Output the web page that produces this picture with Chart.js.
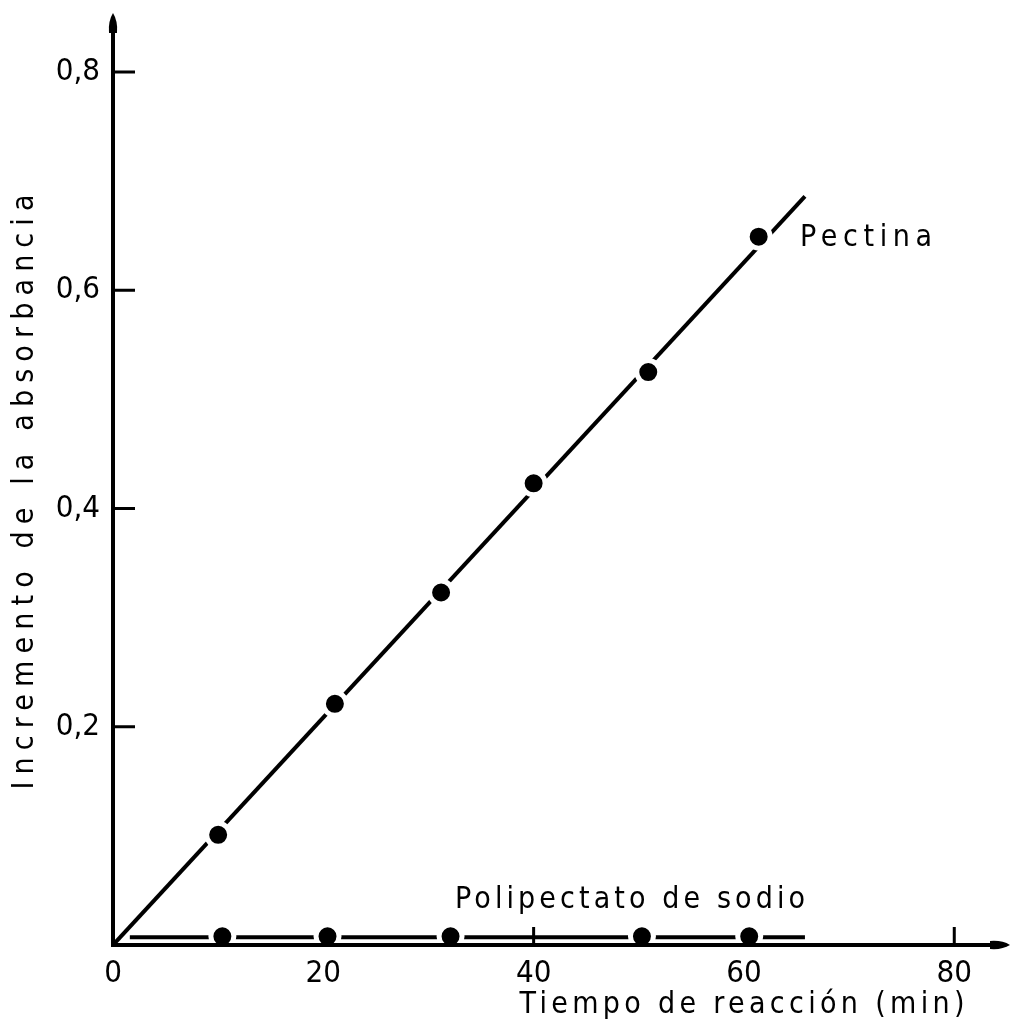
<!DOCTYPE html>
<html lang="es">
<head>
<meta charset="UTF-8">
<title>Incremento de la absorbancia</title>
<script src="https://cdn.jsdelivr.net/npm/chart.js"></script>
<style>
  body { margin: 0; background: #fff; }
  canvas { display: block; }
</style>
</head>
<body>
<canvas id="chart" width="1012" height="1032"></canvas>
<script>
// data
var xTicks = [0, 20, 40, 60, 80];
var yTicks = [0.2, 0.4, 0.6, 0.8];

var pectinaX = [10.0, 21.1, 31.2, 40.0, 50.9, 61.4];
var pectinaY = [0.101, 0.221, 0.323, 0.423, 0.525, 0.649];
var pectinaLineX = [0, 65.8];
var pectinaLineY = [0, 0.686];

var poliX = [10.4, 20.4, 32.1, 50.3, 60.5];
var poliY = [0.008, 0.008, 0.008, 0.008, 0.008];
var poliLineX = [1.6, 65.8];
var poliLineY = [0.007, 0.007];

var FONT = '"DejaVu Sans Condensed", "DejaVu Sans", sans-serif';

function pts(xs, ys) {
    return xs.map(function(x, i) { return { x: x, y: ys[i] }; });
}

// draw text spread to a given width
function spacedText(ctx, text, cx, cy, width, size, angle) {
    ctx.save();
    ctx.font = size + 'px ' + FONT;
    ctx.letterSpacing = '0px';
    var w = ctx.measureText(text).width;
    var sp = (width - w) / (text.length - 1);
    ctx.letterSpacing = sp + 'px';
    ctx.translate(cx, cy);
    if (angle) ctx.rotate(angle);
    ctx.textAlign = 'left';
    ctx.textBaseline = 'middle';
    ctx.fillStyle = '#000';
    ctx.fillText(text, -width / 2, 0);
    ctx.restore();
}

function noPad(scale) {
    scale.paddingTop = 0;
    scale.paddingBottom = 0;
    scale.paddingLeft = 0;
    scale.paddingRight = 0;
}

var axesPlugin = {
    id: 'axesPlugin',
    beforeDatasetsDraw: function(chart) {
        // ticks go under the markers
        var ctx = chart.ctx;
        var xs = chart.scales.x, ys = chart.scales.y;
        var x0 = xs.getPixelForValue(0), y0 = ys.getPixelForValue(0);
        ctx.save();
        ctx.strokeStyle = '#000';
        ctx.lineWidth = 3;
        ctx.beginPath();
        yTicks.forEach(function(v) {
            var p = ys.getPixelForValue(v);
            ctx.moveTo(x0, p);
            ctx.lineTo(x0 + 22, p);
        });
        xTicks.slice(1).forEach(function(v) {
            var p = xs.getPixelForValue(v);
            ctx.moveTo(p, y0);
            ctx.lineTo(p, y0 - 18);
        });
        ctx.stroke();
        ctx.restore();
    },
    afterDatasetsDraw: function(chart) {
        var ctx = chart.ctx;
        var xs = chart.scales.x, ys = chart.scales.y;
        var x0 = xs.getPixelForValue(0), y0 = ys.getPixelForValue(0);
        ctx.save();
        ctx.strokeStyle = '#000';
        ctx.fillStyle = '#000';
        ctx.lineWidth = 4;

        // axes
        ctx.beginPath();
        ctx.moveTo(x0, y0 + 2);
        ctx.lineTo(x0, chart.chartArea.top + 12);
        ctx.moveTo(x0 - 2, y0);
        ctx.lineTo(chart.chartArea.right - 12, y0);
        ctx.stroke();

        // arrow heads
        var top = chart.chartArea.top;
        ctx.beginPath();
        ctx.moveTo(x0, top);
        ctx.quadraticCurveTo(x0 + 5, top + 8, x0 + 4, top + 20);
        ctx.lineTo(x0 - 4, top + 20);
        ctx.quadraticCurveTo(x0 - 5, top + 8, x0, top);
        ctx.fill();
        var right = chart.chartArea.right;
        ctx.beginPath();
        ctx.moveTo(right, y0);
        ctx.quadraticCurveTo(right - 8, y0 - 5, right - 20, y0 - 4);
        ctx.lineTo(right - 20, y0 + 4);
        ctx.quadraticCurveTo(right - 8, y0 + 5, right, y0);
        ctx.fill();
        ctx.restore();

        // titles and curve labels
        spacedText(ctx, 'Tiempo de reacción (min)', 742, 1005, 445, 30, 0);
        spacedText(ctx, 'Incremento de la absorbancia', 25, 492, 595, 30, -Math.PI / 2);
        spacedText(ctx, 'Pectina', 866, 238, 132, 30, 0);
        spacedText(ctx, 'Polipectato de sodio', 630, 900, 350, 30, 0);
    }
};

var ctx = document.getElementById('chart').getContext('2d');
var chart = new Chart(ctx, {
    type: 'scatter',
    data: {
        datasets: [
            {
                label: 'Pectina',
                data: pts(pectinaX, pectinaY),
                backgroundColor: '#000',
                borderColor: '#fff',
                borderWidth: 5,
                pointRadius: 11.5,
                order: 1
            },
            {
                label: 'Polipectato de sodio',
                data: pts(poliX, poliY),
                backgroundColor: '#000',
                borderColor: '#fff',
                borderWidth: 5,
                pointRadius: 11.5,
                order: 1
            },
            {
                label: 'Pectina ajuste',
                data: pts(pectinaLineX, pectinaLineY),
                showLine: true,
                borderColor: '#000',
                borderWidth: 4,
                pointRadius: 0,
                order: 2
            },
            {
                label: 'Polipectato ajuste',
                data: pts(poliLineX, poliLineY),
                showLine: true,
                borderColor: '#000',
                borderWidth: 4,
                pointRadius: 0,
                order: 2
            }
        ]
    },
    options: {
        responsive: false,
        animation: false,
        layout: { autoPadding: false, padding: { top: 13, right: 2, left: 0, bottom: 0 } },
        plugins: {
            legend: { display: false },
            tooltip: { enabled: false }
        },
        scales: {
            x: {
                type: 'linear',
                min: 0,
                max: 85.3,
                grid: { display: false, drawTicks: false },
                border: { display: false },
                afterBuildTicks: function(scale) {
                    scale.ticks = xTicks.map(function(v) { return { value: v }; });
                },
                afterFit: function(scale) { scale.height = 87; noPad(scale); },
                ticks: {
                    color: '#000',
                    padding: 10,
                    maxRotation: 0,
                    font: { family: FONT, size: 31 },
                    callback: function(v) { return String(v); }
                }
            },
            y: {
                type: 'linear',
                min: 0,
                max: 0.854,
                grid: { display: false, drawTicks: false },
                border: { display: false },
                afterBuildTicks: function(scale) {
                    scale.ticks = yTicks.map(function(v) { return { value: v }; });
                },
                afterFit: function(scale) { scale.width = 113; noPad(scale); },
                ticks: {
                    color: '#000',
                    padding: 13,
                    font: { family: FONT, size: 31 },
                    callback: function(v) { return v.toFixed(1).replace('.', ','); }
                }
            }
        }
    },
    plugins: [axesPlugin]
});
</script>
</body>
</html>
